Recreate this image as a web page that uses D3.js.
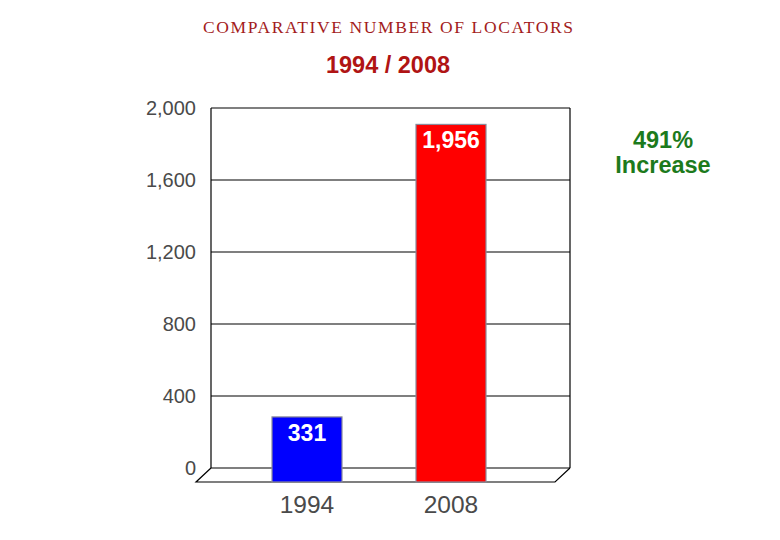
<!DOCTYPE html>
<html><head><meta charset="utf-8">
<script src="https://cdn.jsdelivr.net/npm/d3@7"></script>
<style>body{margin:0;background:#fff}svg{display:block}</style>
</head><body>
<script>
const categories = ["1994", "2008"];
const values = [331, 1956];
const valueLabels = ["331", "1,956"];
const barColors = ["#0000ff", "#ff0000"];
const yTicks = [0, 400, 800, 1200, 1600, 2000];
const title = "COMPARATIVE NUMBER OF LOCATORS";
const subtitle = "1994 / 2008";
const note = ["491%", "Increase"];

(function () {
const W = 780, H = 540;
const svg = d3.select("body").append("svg").attr("width", W).attr("height", H);

const pLeft = 211, pRight = 570, pTop = 108, pBottom = 468;
const dx = -15, dy = 14; // floor depth
const y = d3.scaleLinear().domain([0, 2000]).range([pBottom, pTop]);
const x = d3.scaleBand().domain(categories).range([200, 558]).paddingInner(0.514).paddingOuter(0.5);

// title
svg.append("text").attr("x", 388).attr("y", 33).attr("text-anchor", "middle")
  .attr("font-family", "Liberation Serif, serif").attr("font-size", 17.5)
  .attr("fill", "#a31c1c").attr("textLength", 370).text(title);
svg.append("text").attr("x", 388).attr("y", 73).attr("text-anchor", "middle")
  .attr("font-family", "Liberation Sans, Arial, sans-serif").attr("font-weight", "bold").attr("font-size", 23.5)
  .attr("fill", "#b01414").text(subtitle);

// grid lines
const g = svg.append("g").attr("stroke", "#000").attr("stroke-width", 1.2).attr("fill", "none");
g.selectAll("line.grid").data(yTicks).join("line").attr("class", "grid")
  .attr("x1", pLeft).attr("x2", pRight).attr("y1", d => y(d)).attr("y2", d => y(d));
g.append("line").attr("x1", pLeft).attr("x2", pLeft).attr("y1", pTop).attr("y2", pBottom);
g.append("line").attr("x1", pRight).attr("x2", pRight).attr("y1", pTop).attr("y2", pBottom);
// floor
g.append("path").attr("d", `M${pLeft},${pBottom} L${pLeft + dx},${pBottom + dy} L${pRight + dx},${pBottom + dy} L${pRight},${pBottom}`);

// y labels
svg.append("g").selectAll("text").data(yTicks).join("text")
  .attr("x", 196).attr("y", d => y(d) + 7).attr("text-anchor", "end")
  .attr("font-family", "Liberation Sans, Arial, sans-serif").attr("font-size", 20)
  .attr("fill", "#4a4a4a").text(d => d3.format(",")(d));

// bars (drawn at mid-depth plane, reaching the front floor edge)
const off = 8.5;
svg.append("g").selectAll("rect").data(values).join("rect")
  .attr("x", (d, i) => x(categories[i]))
  .attr("width", x.bandwidth())
  .attr("y", d => y(d) + off)
  .attr("height", d => pBottom + dy - (y(d) + off))
  .attr("fill", (d, i) => barColors[i])
  .attr("stroke", "#8a8a9a").attr("stroke-width", 1.2);

svg.append("g").selectAll("text").data(values).join("text")
  .attr("x", (d, i) => x(categories[i]) + x.bandwidth() / 2)
  .attr("y", d => y(d) + off + 24)
  .attr("text-anchor", "middle")
  .attr("font-family", "Liberation Sans, Arial, sans-serif").attr("font-weight", "bold").attr("font-size", 23)
  .attr("fill", "#fff").text((d, i) => valueLabels[i]);

// category labels
svg.append("g").selectAll("text").data(categories).join("text")
  .attr("x", d => x(d) + x.bandwidth() / 2)
  .attr("y", 513).attr("text-anchor", "middle")
  .attr("font-family", "Liberation Sans, Arial, sans-serif").attr("font-size", 24.5)
  .attr("fill", "#4a4a4a").text(d => d);

// note
svg.append("g").selectAll("text").data(note).join("text")
  .attr("x", 663).attr("y", (d, i) => 148 + i * 25).attr("text-anchor", "middle")
  .attr("font-family", "Liberation Sans, Arial, sans-serif").attr("font-weight", "bold").attr("font-size", 23.5)
  .attr("fill", "#1c7a1c").text(d => d);
})();
</script>
</body></html>
